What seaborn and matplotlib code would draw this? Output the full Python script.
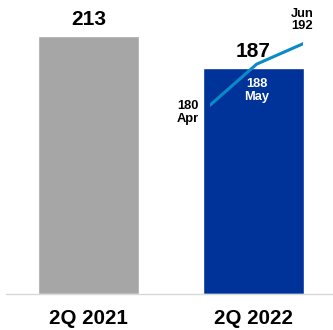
import matplotlib
matplotlib.use("Agg")
import matplotlib.pyplot as plt
import seaborn as sns

categories = ["2Q 2021", "2Q 2022"]
bar_values = [213, 187]
months = ["Apr", "May", "Jun"]
month_values = [180, 188, 192]

GRAY = "#a6a6a6"
BLUE = "#003399"
LINE = "#0a8ac8"

sns.set_style("white")
plt.rcParams["font.family"] = ["Liberation Sans", "DejaVu Sans"]
plt.rcParams["font.weight"] = "bold"
plt.rcParams["text.color"] = "black"
plt.rcParams["xtick.color"] = "black"

fig = plt.figure(figsize=(3.33, 3.30), dpi=100)
W, H = 333, 330
ax = fig.add_axes([6 / W, 36 / H, 327 / W, 294 / H])

sns.barplot(x=categories, y=bar_values, hue=categories, palette=[GRAY, BLUE],
            width=0.612, legend=False, ax=ax, saturation=1)
ax.set_xlim(-0.5, 1.482)
ax.set_ylim(0, 242.8)
for c in ax.containers:
    ax.bar_label(c, fmt="%d", padding=5, fontsize=15, fontweight="bold", color="black")

for s in ["top", "right", "left"]:
    ax.spines[s].set_visible(False)
ax.spines["bottom"].set_color("#d9d9d9")
ax.spines["bottom"].set_linewidth(1.0)
ax.set_yticks([])
ax.set_xlabel("")
ax.set_ylabel("")
ax.tick_params(axis="x", length=0, pad=11, labelsize=14.8, labelcolor="black")
for t in ax.get_xticklabels():
    t.set_fontweight("bold")

# monthly line on its own small axes
ax2 = fig.add_axes([210 / W, 36 / H, 93.3 / W, 294 / H])
ax2.patch.set_alpha(0)
sns.lineplot(x=months, y=month_values, color=LINE, linewidth=2.2, sort=False, ax=ax2)
ax2.set_xlim(0, 2)
ax2.set_ylim(143.2, 200.5)
ax2.axis("off")

fs = 9.3
ls = 1.1
ax2.annotate(f"{month_values[0]}\n{months[0]}", (0, month_values[0]),
             xytext=(-8, -5), textcoords="offset points", ha="right", va="center",
             fontsize=fs, fontweight="bold", color="black", linespacing=ls)
ax2.annotate(f"{month_values[1]}\n{months[1]}", (1, month_values[1]),
             xytext=(0, -19), textcoords="offset points", ha="center", va="center",
             fontsize=fs, fontweight="bold", color="white", linespacing=ls)
ax2.annotate(f"{months[2]}\n{month_values[2]}", (2, month_values[2]),
             xytext=(-1, 17), textcoords="offset points", ha="center", va="center",
             fontsize=fs, fontweight="bold", color="black", linespacing=ls)

fig.savefig("out.png", dpi=100)
